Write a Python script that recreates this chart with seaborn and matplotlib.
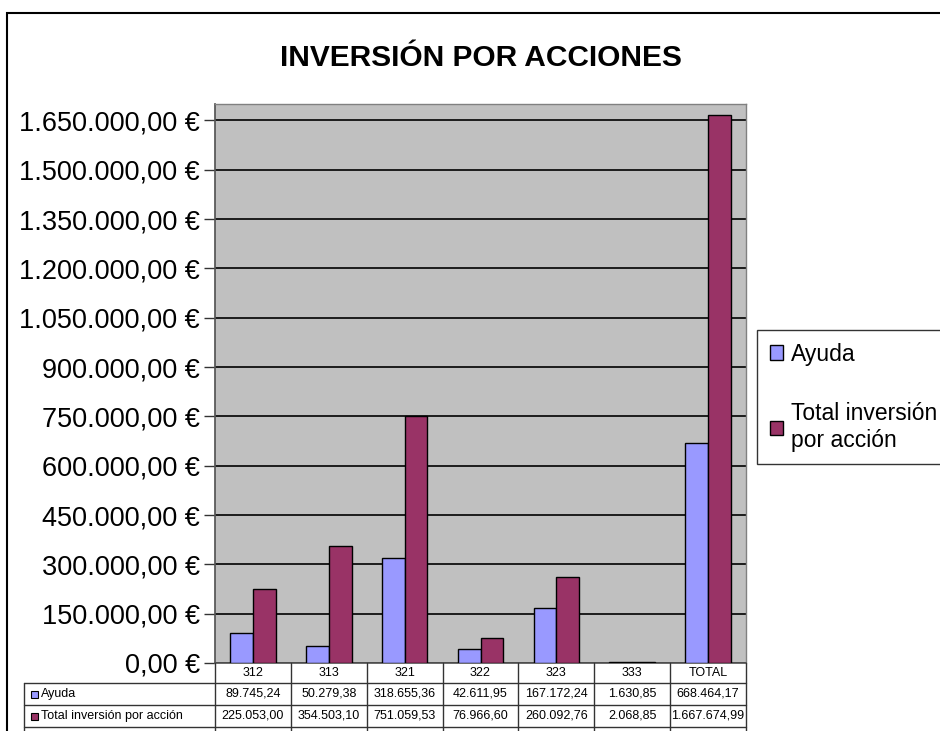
import matplotlib
matplotlib.use("Agg")
import matplotlib.pyplot as plt
import matplotlib.transforms as mtransforms
from matplotlib.patches import Patch, Rectangle
from matplotlib.ticker import FixedLocator, FuncFormatter
import seaborn as sns
import pandas as pd

# Data
acciones = ["312", "313", "321", "322", "323", "333", "TOTAL"]
ayuda = [89745.24, 50279.38, 318655.36, 42611.95, 167172.24, 1630.85, 668464.17]
total_inversion = [225053.00, 354503.10, 751059.53, 76966.60, 260092.76, 2068.85, 1667674.99]
series_names = ["Ayuda", "Total inversión por acción"]
legend_labels = ["Ayuda", "Total inversión\npor acción"]
y_ticks = list(range(0, 1650001, 150000))

colors = ["#9999FF", "#993366"]
W, H = 940, 731


def euro(v, decimals=2):
    s = f"{v:,.{decimals}f}"
    return s.replace(",", "X").replace(".", ",").replace("X", ".")


def px(x, y):
    """pixel coords (from top-left) to figure fraction"""
    return x / W, 1 - y / H


df = pd.DataFrame({
    "accion": acciones * 2,
    "valor": ayuda + total_inversion,
    "serie": [series_names[0]] * len(acciones) + [series_names[1]] * len(acciones),
})

sns.set_theme(style="white")
plt.rcParams["font.family"] = ["Liberation Sans", "DejaVu Sans"]
plt.rcParams["text.color"] = "black"
plt.rcParams["ytick.color"] = "black"
plt.rcParams["ytick.labelcolor"] = "black"

fig = plt.figure(figsize=(W / 100, H / 100), dpi=100)
fig.patch.set_facecolor("white")

# outer chart border
fig.patches.append(Rectangle(px(7, 900), 2, (900 - 13) / H, transform=fig.transFigure,
                             fill=False, edgecolor="black", linewidth=1.5))

left, top = px(215, 104)
right, bottom = px(746, 663)
ax = fig.add_axes([left, bottom, right - left, top - bottom])
ax.set_facecolor("#C0C0C0")

sns.barplot(data=df, x="accion", y="valor", hue="serie", palette=colors,
            saturation=1, width=0.6, gap=0, edgecolor="black", linewidth=1,
            ax=ax, legend=False, zorder=3)

ax.set_ylim(0, 1700000)
ax.set_xlim(-0.5, len(acciones) - 0.5)
ax.yaxis.set_major_locator(FixedLocator(y_ticks))
ax.yaxis.set_major_formatter(FuncFormatter(lambda v, p: euro(v) + " €"))
ax.tick_params(axis="y", which="major", direction="out", length=8, width=1,
               color="#333333", labelsize=19.5, pad=3, left=True)
ax.tick_params(axis="x", bottom=False, labelbottom=False)
ax.grid(axis="y", color="black", linewidth=1.2, zorder=1)
ax.set_axisbelow(True)
ax.set_xlabel("")
ax.set_ylabel("")
for side in ["top", "right"]:
    ax.spines[side].set_color("#808080")
    ax.spines[side].set_linewidth(1)
ax.spines["left"].set_color("#555555")
ax.spines["bottom"].set_color("#555555")

fig.text(px(481, 0)[0], px(0, 58)[1], "INVERSIÓN POR ACCIONES", ha="center", va="center",
         fontsize=21.5, fontweight="bold", color="black")

# legend
handles = [Patch(facecolor=c, edgecolor="black", linewidth=1) for c in colors]
leg = fig.legend(handles, legend_labels, loc="upper left",
                 bbox_to_anchor=px(757, 330), bbox_transform=fig.transFigure,
                 fontsize=16.5, frameon=True, fancybox=False, edgecolor="black",
                 handlelength=0.6, handleheight=0.6, handletextpad=0.35,
                 labelspacing=1.6, borderpad=0.55, borderaxespad=0)
leg.get_frame().set_linewidth(1)
for t in leg.get_texts():
    t.set_color("black")

# data table below the plot
tr = mtransforms.blended_transform_factory(ax.transData, fig.transFigure)
y_hdr_top, y_row1, y_row2, y_row3 = [px(0, y)[1] for y in (663, 683, 705, 727)]
line_kw = dict(color="#333333", linewidth=1, clip_on=False)

for i in range(len(acciones) + 1):
    xv = i - 0.5
    fig.add_artist(plt.Line2D([xv, xv], [y_hdr_top, y_row3 - 0.05], transform=tr, **line_kw))
x_lab = px(24, 0)[0]
for yy in (y_row1, y_row2, y_row3):
    fig.add_artist(plt.Line2D([x_lab, right], [yy, yy], transform=fig.transFigure, **line_kw))
fig.add_artist(plt.Line2D([x_lab, x_lab], [y_row1, y_row3 - 0.05], transform=fig.transFigure, **line_kw))

for i, a in enumerate(acciones):
    fig.text(i, (y_hdr_top + y_row1) / 2, a, transform=tr, ha="center", va="center", fontsize=9)
    fig.text(i, (y_row1 + y_row2) / 2, euro(ayuda[i]), transform=tr, ha="center", va="center", fontsize=9)
    fig.text(i, (y_row2 + y_row3) / 2, euro(total_inversion[i]), transform=tr, ha="center", va="center", fontsize=9)

for j, (name, c) in enumerate(zip(series_names, colors)):
    yc = (y_row1 + y_row2) / 2 if j == 0 else (y_row2 + y_row3) / 2
    sq = 7 / W
    fig.patches.append(Rectangle((px(31, 0)[0], yc - 3.5 / H), sq, 7 / H, transform=fig.transFigure,
                                 facecolor=c, edgecolor="black", linewidth=0.8))
    fig.text(px(41, 0)[0], yc, name, ha="left", va="center", fontsize=9)

fig.savefig("out.png", dpi=100)
